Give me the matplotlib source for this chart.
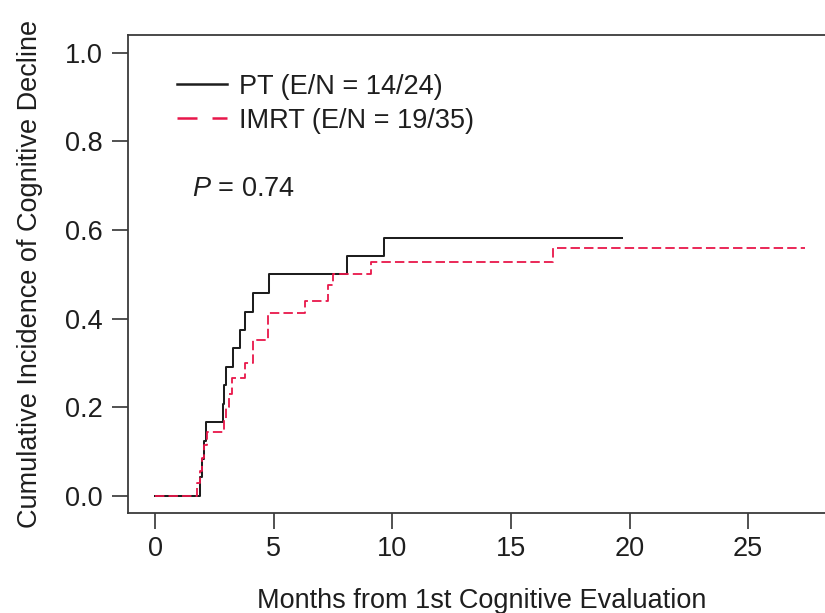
import matplotlib
matplotlib.use("Agg")
import matplotlib.pyplot as plt
from matplotlib.lines import Line2D

plt.rcParams['font.family'] = ['Liberation Sans', 'DejaVu Sans']
plt.rcParams['mathtext.fontset'] = 'custom'
plt.rcParams['mathtext.it'] = 'Liberation Sans:italic'
plt.rcParams['mathtext.rm'] = 'Liberation Sans'

# step curves (months, cumulative incidence)
pt_t = [0, 1.90, 1.97, 2.05, 2.15, 2.86, 2.89, 2.98, 3.30, 3.56, 3.80, 4.12, 4.82, 8.08, 9.65, 19.67]
pt_ci = [0, 0.042, 0.083, 0.125, 0.167, 0.208, 0.25, 0.292, 0.333, 0.375, 0.416, 0.458, 0.50, 0.542, 0.583, 0.583]

imrt_t = [0, 1.78, 1.88, 1.97, 2.08, 2.20, 2.92, 2.98, 3.10, 3.23, 3.80, 4.12, 4.78, 6.32, 7.31, 7.52, 9.09, 16.76, 27.4]
imrt_ci = [0, 0.029, 0.057, 0.086, 0.114, 0.145, 0.171, 0.20, 0.229, 0.265, 0.30, 0.352, 0.412, 0.44, 0.476, 0.50, 0.528, 0.559, 0.559]

labels = ["PT (E/N = 14/24)", "IMRT (E/N = 19/35)"]
p_text = r"$\it{P}$ = 0.74"

black = '#1e1e1e'
red = '#e8174a'
fs = 19.5

fig = plt.figure(figsize=(8.25, 6.13), dpi=100)
ax = fig.add_axes([0.1555, 0.1636, 0.8577, 0.7798])

ax.step(pt_t, pt_ci, where='post', color=black, lw=1.45)
ax.step(imrt_t, imrt_ci, where='post', color=red, lw=1.3, linestyle=(0, (5.2, 2.3)))

ax.set_xlim(-1.13, 28.7)
ax.set_ylim(-0.038, 1.041)
ax.set_xticks([0, 5, 10, 15, 20, 25])
ax.set_yticks([0.0, 0.2, 0.4, 0.6, 0.8, 1.0])
ax.set_yticklabels(["0.0", "0.2", "0.4", "0.6", "0.8", "1.0"])
ax.tick_params(direction='out', length=11.5, width=1.2, color='#333333',
               labelsize=fs, labelcolor='#1e1e1e')
ax.tick_params(axis='y', pad=7)
ax.tick_params(axis='x', pad=5)
for s in ax.spines.values():
    s.set_linewidth(1.3)
    s.set_color('#3a3a3a')

ax.set_xlabel("Months from 1st Cognitive Evaluation", fontsize=fs, color='#1e1e1e')
ax.xaxis.set_label_coords(0.5, -0.157)
ax.set_ylabel("Cumulative Incidence of Cognitive Decline", fontsize=fs, color='#1e1e1e')
ax.yaxis.set_label_coords(-0.1205, 0.5)

handles = [Line2D([], [], color=black, lw=1.8),
           Line2D([], [], color=red, lw=1.8, linestyle=(0, (8, 6)))]
ax.legend(handles, labels, loc='upper left', bbox_to_anchor=(0.0688, 0.918),
          frameon=False, fontsize=fs, handlelength=1.85, handletextpad=0.45,
          borderpad=0, borderaxespad=0, labelspacing=0.29, labelcolor='#1e1e1e')

ax.text(0.0896, 0.677, p_text, transform=ax.transAxes, fontsize=fs,
        va='center', ha='left', color='#1e1e1e')

fig.savefig("out.png", dpi=100)
